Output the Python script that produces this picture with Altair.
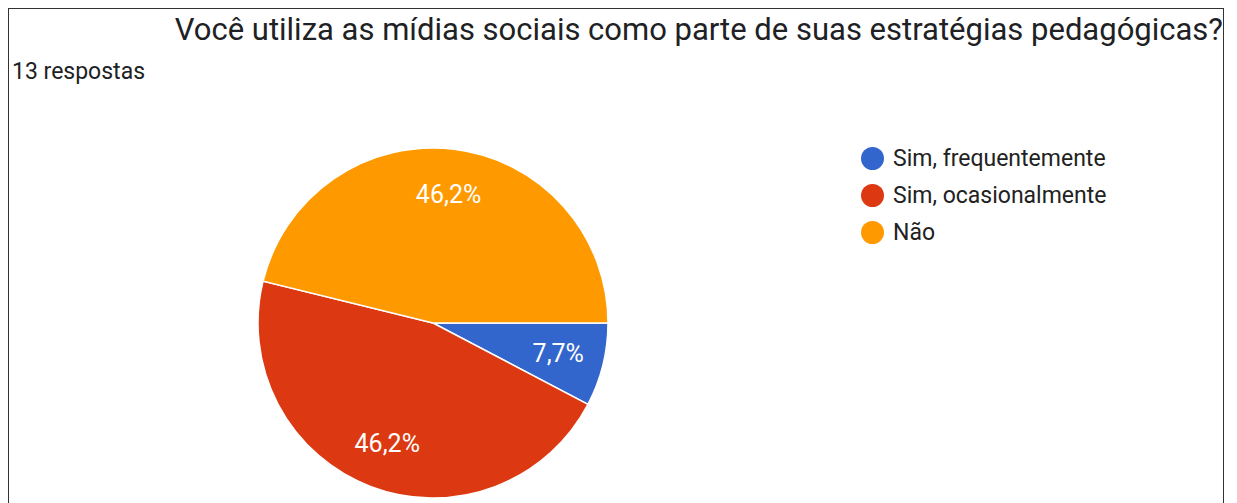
import math
import altair as alt
import pandas as pd

# ---- data ----
categories = ["Sim, frequentemente", "Sim, ocasionalmente", "Não"]
counts = [1, 6, 6]
colors = ["#3366CC", "#DC3912", "#FF9900"]
title_text = "Você utiliza as mídias sociais como parte de suas estratégias pedagógicas?"
subtitle_text = "13 respostas"

total = sum(counts)
labels = [f"{c / total * 100:.1f}".replace(".", ",") + "%" for c in counts]

df = pd.DataFrame({
    "cat": categories,
    "n": counts,
    "ord": list(range(len(categories))),
    "lab": labels,
})

FONT = "Roboto"
CX, CY, R = 425, 315, 175

theta = alt.Theta("n:Q", stack=True,
                  scale=alt.Scale(range=[math.pi / 2, math.pi / 2 + 2 * math.pi]))
color = alt.Color(
    "cat:N",
    scale=alt.Scale(domain=categories, range=colors),
    sort=categories,
    legend=alt.Legend(
        orient="none", legendX=853, legendY=139, title=None,
        symbolType="circle", symbolSize=529, symbolStrokeWidth=0,
        labelFont=FONT, labelFontSize=23, labelColor="#222222",
        labelOffset=9, rowPadding=13, padding=0, labelLimit=400,
    ),
)

base = alt.Chart(df).encode(
    theta=theta,
    order=alt.Order("ord:Q"),
    x=alt.value(CX),
    y=alt.value(CY),
)

pie = base.mark_arc(radius=R, stroke="white", strokeWidth=1.5).encode(color=color)
pie_labels = base.mark_text(radius=129, font=FONT, fontSize=25, color="white").encode(
    text="lab:N"
)

title = alt.Chart(alt.Data(values=[{"t": title_text}])).mark_text(
    font=FONT, fontSize=31, color="#202124", align="right", baseline="alphabetic"
).encode(text="t:N", x=alt.value(1215), y=alt.value(32))

subtitle = alt.Chart(alt.Data(values=[{"t": subtitle_text}])).mark_text(
    font=FONT, fontSize=23, color="#202124", align="left", baseline="alphabetic"
).encode(text="t:N", x=alt.value(4), y=alt.value(71))

chart = alt.layer(pie, pie_labels, title, subtitle).properties(
    width=1216, height=500, padding=0,
    autosize=alt.AutoSizeParams(type="none"),
).configure_view(stroke="#333333", strokeWidth=2)

chart.save("out.html", embed_options={"renderer": "svg", "actions": False})
